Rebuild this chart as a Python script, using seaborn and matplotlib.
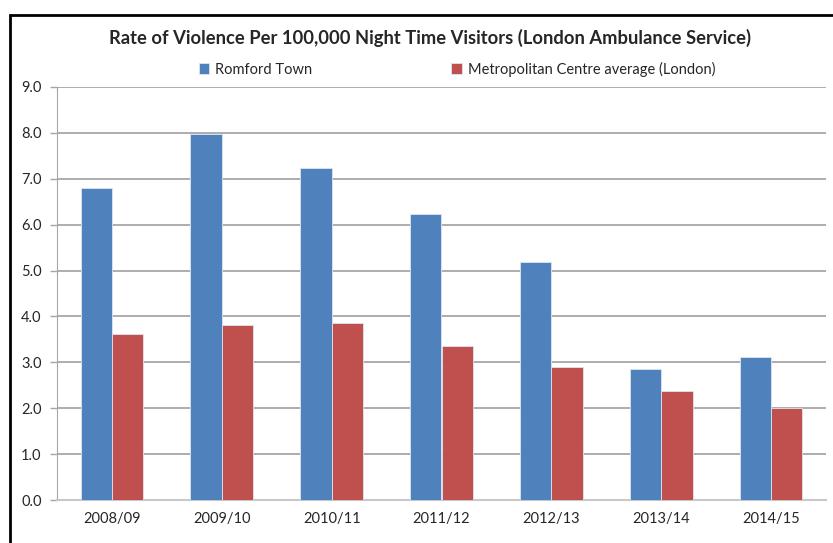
import matplotlib
matplotlib.use('Agg')
import matplotlib.pyplot as plt
import pandas as pd
import seaborn as sns
from matplotlib.patches import Rectangle

years = ['2008/09', '2009/10', '2010/11', '2011/12', '2012/13', '2013/14', '2014/15']
romford = [6.80, 7.97, 7.24, 6.23, 5.18, 2.86, 3.11]
metro = [3.62, 3.81, 3.86, 3.36, 2.89, 2.37, 2.00]
series = ['Romford Town', 'Metropolitan Centre average (London)']
colors = ['#4F81BD', '#C0504D']

df = pd.DataFrame({
    'year': years * 2,
    'rate': romford + metro,
    'series': [series[0]] * len(years) + [series[1]] * len(years),
})

sns.set_style('white')
plt.rcParams['font.family'] = ['Lato', 'DejaVu Sans']

fig = plt.figure(figsize=(8.33, 5.43), dpi=100)
ax = fig.add_axes([57 / 833, 1 - 500 / 543, 769 / 833, 413 / 543])

sns.barplot(data=df, x='year', y='rate', hue='series', palette=colors, saturation=1,
            width=0.57, ax=ax, edgecolor='#dce6f2', linewidth=0.6, zorder=3)

ax.set_ylim(0, 9)
ax.set_yticks([i for i in range(10)])
ax.set_yticklabels(['%.1f' % i for i in range(10)], fontsize=10.5)
ax.tick_params(axis='x', labelsize=10.5, length=0, pad=9)
ax.tick_params(axis='y', length=5, width=1, color='#a6a6a6', direction='out', left=True, pad=6)
ax.set_xlabel('')
ax.set_ylabel('')
ax.yaxis.grid(True, color='#a0a0a0', linewidth=1.2, zorder=0)
ax.set_axisbelow(True)
for s in ['top', 'right']:
    ax.spines[s].set_visible(False)
ax.spines['left'].set_color('#a6a6a6')
ax.spines['bottom'].set_color('#c8c8c8')
ax.spines['bottom'].set_linewidth(1.5)

ax.legend(loc='lower center', bbox_to_anchor=(0.52, 1.0), ncol=2, frameon=False,
          fontsize=10.5, handlelength=0.75, handleheight=0.75, handletextpad=0.4,
          columnspacing=9.5, borderaxespad=0.3)

fig.text(0.516, 1 - 38 / 543, 'Rate of Violence Per 100,000 Night Time Visitors (London Ambulance Service)',
         ha='center', va='center', fontsize=13.2, fontweight='bold')

# chart frame (cut off at right/bottom like the reference)
fig.patches.append(Rectangle((10 / 833, -0.05), 1.0, 1 - 15 / 543 + 0.05, transform=fig.transFigure,
                             fill=False, edgecolor='black', linewidth=2))

fig.savefig('out.png', dpi=100)
